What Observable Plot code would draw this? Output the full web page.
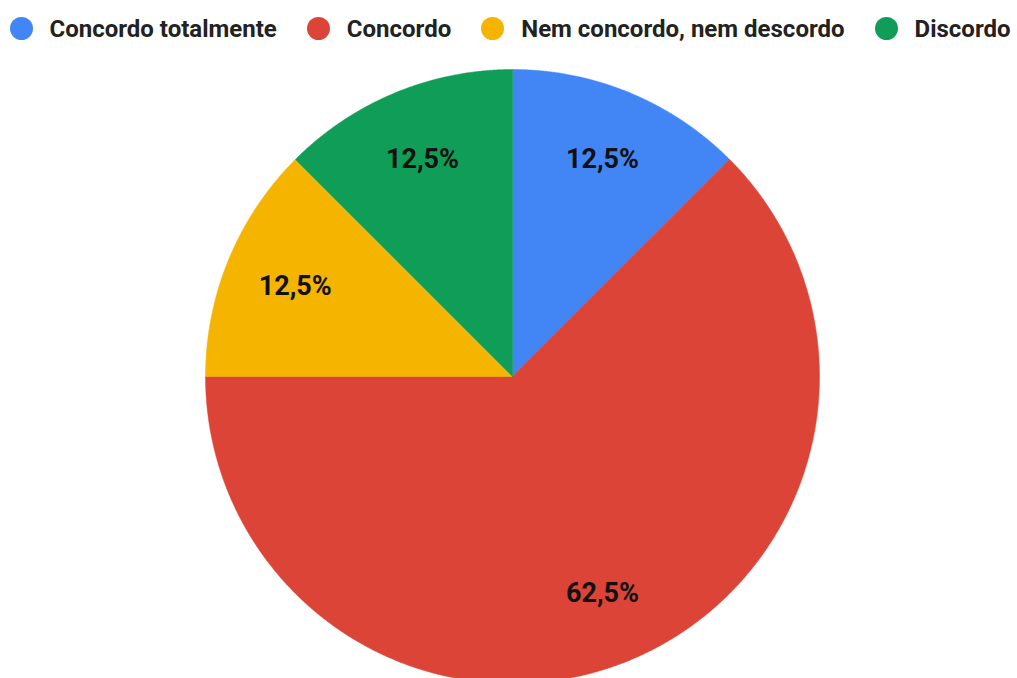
<!DOCTYPE html>
<html><head><meta charset="utf-8">
<script src="https://cdn.jsdelivr.net/npm/d3@7"></script>
<script src="https://cdn.jsdelivr.net/npm/@observablehq/plot@0.6"></script>
<style>
body{margin:0;overflow:hidden;background:#fff;font-family:Roboto,sans-serif;}
#legend{display:flex;justify-content:center;align-items:center;height:57px;gap:30px;font-size:24px;font-weight:700;color:#222;padding-left:3px;}
.item{display:flex;align-items:center;gap:17px;white-space:nowrap;}
.dot{width:23px;height:23px;border-radius:50%;display:inline-block;}
#chart svg{display:block;}
</style></head><body>
<div id="legend"></div><div id="chart"></div>
<script>
const categories = ["Concordo totalmente", "Concordo", "Nem concordo, nem descordo", "Discordo"];
const values = [12.5, 62.5, 12.5, 12.5];
const labels = ["12,5%", "62,5%", "12,5%", "12,5%"];
const colors = ["#4285F4", "#DB4437", "#F4B400", "#0F9D58"];

const legend = document.getElementById("legend");
categories.forEach((c, i) => {
  const it = document.createElement("div"); it.className = "item";
  const d = document.createElement("span"); d.className = "dot"; d.style.background = colors[i];
  const t = document.createElement("span"); t.textContent = c;
  it.appendChild(d); it.appendChild(t); legend.appendChild(it);
});

const total = d3.sum(values);
let acc = 0;
const slices = categories.map((c, i) => {
  const a0 = acc / total * 2 * Math.PI;
  acc += values[i];
  const a1 = acc / total * 2 * Math.PI;
  const pts = [{x: 0, y: 0}];
  const n = Math.max(2, Math.ceil((a1 - a0) / (Math.PI / 720)));
  for (let k = 0; k <= n; k++) {
    const a = a0 + (a1 - a0) * k / n;
    pts.push({x: Math.sin(a), y: Math.cos(a)});
  }
  pts.push({x: 0, y: 0});
  const am = (a0 + a1) / 2;
  return {category: c, color: colors[i], pts, lx: 0.766 * Math.sin(am), ly: 0.766 * Math.cos(am), label: labels[i]};
});

const chart = Plot.plot({
  width: 1017, height: 630,
  marginLeft: 205, marginRight: 198, marginTop: 12, marginBottom: 4,
  x: {domain: [-1, 1], axis: null},
  y: {domain: [-1, 1], axis: null},
  style: {background: "#fff", fontFamily: "Roboto, sans-serif"},
  marks: [
    ...slices.map(s => Plot.line(s.pts, {x: "x", y: "y", fill: s.color, stroke: s.color, strokeWidth: 0.5, curve: "linear"})),
    Plot.text(slices, {x: "lx", y: "ly", text: "label", fontSize: 27, fontWeight: 700, fill: "#111"})
  ]
});
document.getElementById("chart").appendChild(chart);
</script>
</body></html>
